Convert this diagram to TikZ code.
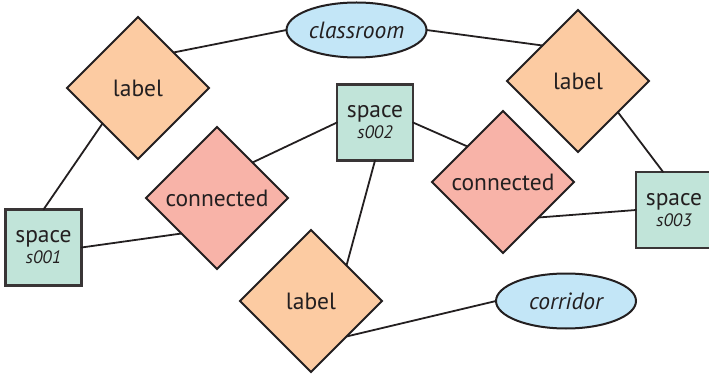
\documentclass[tikz,border=0pt]{standalone}
\usepackage{fontspec}
\setmainfont{PT Sans}
\usepackage{tikz}
\usetikzlibrary{shapes.geometric}
\usepackage{xcolor}
\definecolor{inkgray}{HTML}{231F20}
\definecolor{labfill}{HTML}{FCCBA2}
\definecolor{confill}{HTML}{F8B3A8}
\definecolor{spcfill}{HTML}{C1E4D9}
\definecolor{ellfill}{HTML}{C3E6F7}

\begin{document}
\begin{tikzpicture}[x=1pt,y=1pt,line cap=round,
  every node/.style={inner sep=0pt,outer sep=0pt,text=inkgray,font=\fontsize{23.5}{25}\selectfont},
  relab/.style={diamond,draw=inkgray,line width=2pt,fill=labfill,minimum width=142pt,minimum height=142pt},
  reconn/.style={diamond,draw=inkgray,line width=2pt,fill=confill,minimum width=142pt,minimum height=142pt},
  entspace/.style={rectangle,draw=inkgray!90,line width=2.2pt,fill=spcfill,minimum width=76pt,minimum height=76pt,align=center},
  entclass/.style={ellipse,draw=inkgray,line width=2pt,fill=ellfill,minimum width=140pt,minimum height=55pt,font=\fontsize{23.5}{25}\selectfont\itshape},
  edge/.style={draw=inkgray,line width=1.8pt}]
\useasboundingbox (0,0) rectangle (709,375);
\clip (0,0) rectangle (709,375);
% nodes
\node[relab] (l1) at (138,287) {label};
\node[relab] (l2) at (578,294) {label};
\node[relab] (l3) at (311,74) {label};
\node[reconn] (c1) at (217,177) {connected};
\node[reconn] (c2) at (503,193) {connected};
\node[entclass] (classroom) at (356.5,345) {classroom};
\node[entclass] (corridor) at (566,74) {corridor};
\node[entspace] (s001) at (43.5,127.5) {space\\[-4pt]{\fontsize{18}{19}\selectfont\itshape s001}};
\node[entspace] (s002) at (375,252.5) {space\\[-4pt]{\fontsize{18}{19}\selectfont\itshape s002}};
\node[entspace] (s003) at (674,165) {space\\[-4pt]{\fontsize{18}{19}\selectfont\itshape s003}};
% edges
\draw[edge] (l1.north east) -- (classroom.west);
\draw[edge] (l1.south west) -- (s001.north);
\draw[edge] (classroom.east) -- (l2.north west);
\draw[edge] (l2.-38) -- (s003.106);
\draw[edge] (s002.west) -- (c1.north east);
\draw[edge] (s002.east) -- (c2.north west);
\draw[edge] (s001.east) -- (c1.south west);
\draw[edge] (c2.south east) -- (s003.west);
\draw[edge] (s002.south) -- (l3.north east);
\draw[edge] (l3.south east) -- (corridor.west);
\end{tikzpicture}
\end{document}
